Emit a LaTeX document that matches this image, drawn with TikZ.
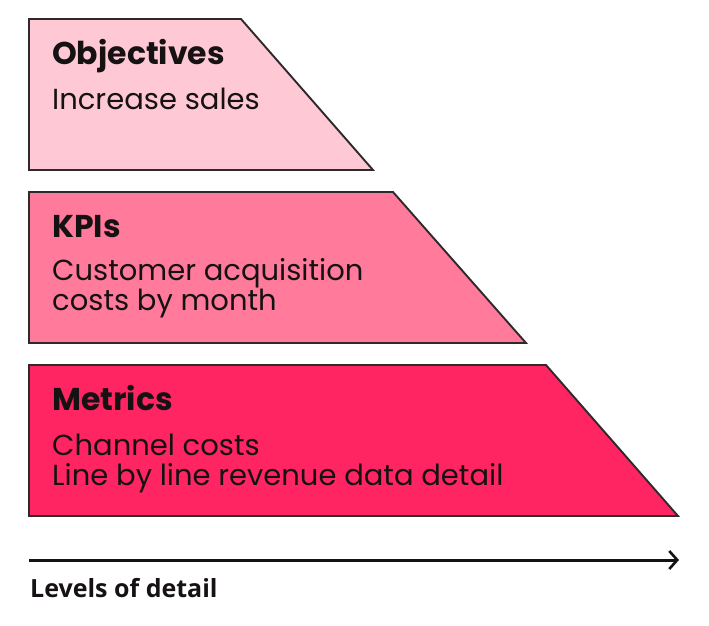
\documentclass[tikz,border=0pt]{standalone}
\usepackage{fontspec}
\setmainfont{Poppins}
\newfontfamily\axisfont{Open Sans}
\usetikzlibrary{arrows.meta}
\definecolor{pinkA}{HTML}{FFC8D5}
\definecolor{pinkB}{HTML}{FF7A9B}
\definecolor{pinkC}{HTML}{FF2462}
\definecolor{edge}{HTML}{2E2A2B}
\definecolor{ink}{HTML}{161214}
\tikzset{
  tier/.style={draw=edge, line width=1.9pt, line join=miter},
  head/.style={anchor=base west, inner sep=0pt, text=ink, font=\fontsize{31.5}{34}\selectfont\bfseries},
  body/.style={anchor=base west, inner sep=0pt, text=ink, align=left, font=\fontsize{29}{30}\selectfont},
  axislabel/.style={anchor=base west, inner sep=0pt, text=ink, font=\fontsize{25}{27}\selectfont\axisfont\bfseries},
  axisline/.style={line width=3pt, draw=ink, -{Straight Barb[length=8pt, width=18pt, line width=2.6pt]}}
}
\begin{document}
\begin{tikzpicture}[x=1pt, y=-1pt]
\useasboundingbox (0,0) rectangle (709,626);
% tiers
\path[tier, fill=pinkA] (29,19) -- (241,19) -- (373,170) -- (29,170) -- cycle;
\path[tier, fill=pinkB] (29,192) -- (393,192) -- (526,343) -- (29,343) -- cycle;
\path[tier, fill=pinkC] (29,365) -- (546,365) -- (678,516) -- (29,516) -- cycle;
% texts
\node[head] (obj) at (52,65) {Objectives};
\node[body] (objb) at (52,109) {Increase sales};
\node[head] (kpi) at (52,237) {KPIs};
\node[body] (kpib) at (52,310) {Customer acquisition\\costs by month};
\node[head] (met) at (52,410) {Metrics};
\node[body] (metb) at (52,485) {Channel costs\\Line by line revenue data detail};
% axis
\coordinate (axL) at (29,560);
\coordinate (axR) at (679,560);
\draw[axisline] (axL) -- (axR);
\node[axislabel] (lvl) at (30,597) {Levels of detail};
\end{tikzpicture}
\end{document}
